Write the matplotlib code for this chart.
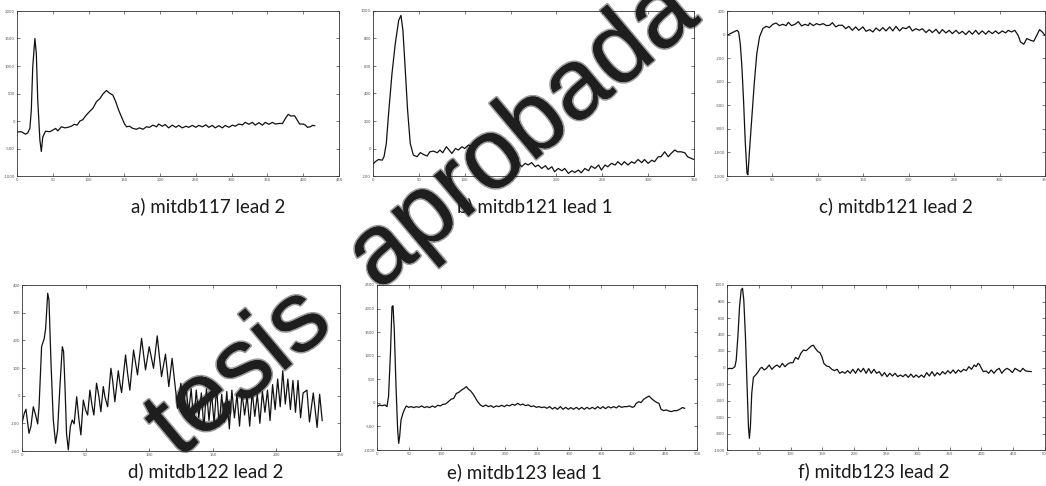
import matplotlib
matplotlib.use("Agg")
import matplotlib.pyplot as plt
import matplotlib.patheffects as pe

plt.rcParams['axes.unicode_minus'] = False

# a) mitdb117 lead 2
a_x = [0, 6, 12, 15, 18, 20, 22, 25, 27, 29, 32, 34, 36, 40, 46, 50, 54, 57, 62, 67,
       71, 76, 80, 84, 88, 92, 97, 102, 106, 111, 116, 120, 125, 129, 134, 138, 142, 146, 150, 153,
       157, 162, 167, 171, 176, 181, 185, 190, 195, 198, 203, 207, 212, 217, 222, 226, 231, 236, 240, 245,
       250, 254, 259, 264, 268, 273, 277, 282, 287, 291, 296, 301, 305, 310, 315, 319, 324, 329, 333, 338,
       343, 347, 352, 357, 361, 366, 371, 375, 379, 383, 388, 391, 395, 400, 403, 406, 410, 413, 416]
a_y = [-200, -195, -240, -215, -135, 200, 985, 1500, 1225, 380, -350, -555, -290, -185, -195, -165, -135, -180, -105, -125,
       -115, -95, -60, -75, 0, 25, 110, 180, 230, 350, 410, 490, 555, 510, 470, 350, 200, 75, -45, -105,
       -95, -135, -150, -125, -150, -105, -115, -75, -105, -55, -95, -65, -125, -75, -115, -80, -125, -95, -115, -80,
       -115, -80, -105, -70, -115, -80, -125, -85, -125, -80, -115, -75, -95, -55, -70, -25, -60, -25, -75, -30,
       -75, -25, -60, -25, -55, -45, -45, 45, 120, 90, 95, 30, -55, -55, -75, -115, -105, -80, -85]

# b) mitdb121 lead 1
b_x = [0, 2.5, 6, 10, 12, 14.5, 17, 20.7, 24.3, 28, 30.5, 32.6, 35, 37.7, 40.6, 44, 48, 51.5, 55, 59,
       62, 66, 70, 73, 76, 80, 83, 86, 90, 93, 97, 100, 104, 108, 111, 115, 119, 122, 126, 129,
       133, 137, 140, 144, 148, 151, 155, 158, 162, 166, 169, 173, 177, 180, 184, 188, 191, 195, 198, 202,
       206, 209, 213, 217, 220, 224, 227, 231, 235, 238, 242, 246, 249, 253, 256, 260, 264, 267, 271, 274,
       278, 282, 285, 289, 293, 296, 300, 304, 307, 311, 314, 318, 322, 325, 329, 332, 336, 340, 343, 347, 350]
b_y = [-113, -96, -80, -85, -60, 36, 255, 545, 763, 932, 968, 860, 593, 280, 37, -48, -60, -30, -43, -55,
       -24, -19, -31, -11, -31, 13, -11, -36, 0, -11, 13, 0, 25, 13, 42, 66, 61, 69, 56, 73,
       37, 32, 13, -24, -60, -96, -120, -96, -133, -108, -120, -103, -133, -120, -145, -125, -152, -133, -169, -145,
       -162, -145, -181, -162, -174, -157, -177, -145, -162, -128, -145, -120, -157, -120, -133, -108, -120, -96, -120, -96,
       -120, -96, -108, -80, -103, -80, -108, -85, -96, -60, -60, -24, -60, -36, -11, -24, -24, -31, -60, -72, -80]

# c) mitdb121 lead 2
c_x = [0, 3.6, 7.3, 11, 12.8, 14.6, 16.4, 18.2, 20, 22, 23, 24.8, 27.4, 30, 32.8, 35.8, 39.4, 43, 46.7, 50.4,
       54, 57.7, 61.3, 65, 67.5, 71, 74.8, 78.5, 82, 85.8, 89.4, 91, 95, 98.5, 102, 105.8, 109.5, 113, 116, 119.7,
       123, 127, 130.7, 134, 138, 141.6, 145, 149.6, 153, 157, 160.6, 164, 168, 171.5, 175, 179, 182.5, 186, 190, 193.4,
       197, 200.7, 204, 208, 211.7, 215, 219, 222.6, 226, 230, 233.6, 237, 241, 244.5, 248, 252, 255.5, 259, 262.8, 266.4,
       270, 273.7, 277, 281, 284.7, 288, 292, 295.6, 299, 303, 306.6, 309.5, 313, 316.8, 320.4, 323, 326.6, 330, 334, 337.6,
       341, 344, 347, 350]
c_y = [-6, 8, 22, 36, 22, -77, -274, -556, -895, -1177, -1190, -980, -697, -415, -161, -20, 50, 70, 59, 87,
       98, 76, 87, 76, 104, 76, 87, 110, 73, 87, 76, 98, 76, 93, 82, 93, 76, 79, 101, 65,
       79, 79, 50, 70, 36, 65, 36, 65, 28, 42, 22, 56, 31, 59, 31, 65, 31, 70, 31, 59,
       50, 70, 31, 50, 36, 50, 17, 42, 17, 45, 8, 42, 14, 36, 8, 36, 8, 28, 0, 31,
       3, 36, 3, 31, 3, 31, 8, 31, 8, 31, 14, 36, 22, 36, -6, -62, -82, -34, -48, -57,
       -6, 42, 22, -6]

# d) mitdb122 lead 2
d_x = [0, 1.8, 3.1, 4.5, 5.5, 7, 8.9, 10.7, 12.3, 13.4, 15.4, 17.5, 18.6, 20.2, 21.2, 22.8, 24.6, 26.4, 28, 29.8,
       31.7, 32.7, 33.8, 35, 36.4, 38, 39.5, 41, 43, 44.8, 46.3, 48.2, 50, 51.6, 53.4, 55.2, 56.5, 58.6, 60.5, 62,
       63.9, 65.2, 67.3, 69.9, 71.2, 73, 75.7, 77, 78.3, 81.4, 83, 84.8, 87.7, 90.8, 94, 97.1, 100, 103.4, 106.3, 109.7,
       112.8, 115.4, 118, 122.3, 124.9, 126.7, 129, 131, 133, 135, 137, 139, 141, 143, 145, 147, 149, 151, 153, 155,
       157, 159, 161, 163, 165, 167, 169, 171, 173, 175, 177, 179, 181, 183, 185, 187, 189, 191, 193, 195,
       197, 199, 201, 203, 205, 207, 209, 211, 213, 215, 217, 219, 221, 224, 226, 229, 232, 234, 236]
d_y = [-100, -64, -49, -100, -136, -112, -40, -70, -102, -40, 177, 207, 243, 370, 346, 117, -88, -172, -124, 33,
       177, 159, 33, -136, -196, -112, -88, -102, -4, -88, -142, -16, -52, -70, 20, -40, -70, 45, -4, -58,
       33, -4, -40, 99, 57, -22, 90, 45, 11, 147, 81, 20, 165, 75, 207, 93, 177, 99, 216, 69,
       150, 33, 135, -46, 45, -34, 30, -60, 25, -95, 20, -80, 10, -120, 25, -90, 10, -100, 30, -110,
       5, -95, 15, -120, 20, -80, 5, -110, 10, -70, 0, -110, 15, -75, 5, -100, 15, -60, 20, -90,
       40, -50, 60, -40, 90, -30, 60, -50, 55, -60, 55, -80, 10, 20, -95, 10, -115, 5, -90]

# e) mitdb123 lead 1
e_x = [0, 4, 8, 12.5, 15.6, 18, 21, 23.4, 25, 27, 29.7, 32.3, 33.9, 35.4, 37.5, 40.6, 43, 45.8, 49.5, 53.6,
       57.3, 61.5, 65.6, 69.8, 74, 78, 82.3, 86.5, 90.6, 94.8, 99, 103, 107, 111.5, 115.6, 119.8, 124, 128, 132, 136.5,
       139.6, 142.7, 145.8, 150, 153.6, 157.3, 161.5, 165.6, 169.8, 174, 178, 182, 186.5, 190.6, 194.8, 199, 203, 207, 211.5, 215.6,
       219.8, 224, 228, 232, 236.5, 240.6, 244.8, 249, 253, 257, 261.5, 265.6, 269.8, 274, 278, 282, 286.5, 290.6, 294.8, 299,
       303, 307, 311.5, 315.6, 319.8, 324, 328, 332, 336.5, 340.6, 344.8, 349, 353, 357, 361.5, 365.6, 369.8, 374, 378, 382,
       386.5, 390.6, 394.8, 399, 402, 405, 409, 412.5, 416.7, 420.8, 425, 429, 433, 437.5, 440.6, 443.8, 448, 452, 456, 460,
       464.6, 468.8, 473, 477, 480.7]
e_y = [-80, -45, -60, -45, -80, 130, 1050, 2040, 2060, 1545, 345, -575, -860, -715, -365, -220, -137, -65, -95, -80,
       -100, -80, -95, -65, -100, -80, -100, -65, -95, -52, -65, -30, -25, 25, 75, 95, 200, 225, 270, 310,
       345, 290, 260, 190, 110, 25, -45, -80, -45, -80, -60, -95, -65, -80, -52, -80, -45, -65, -30, -52,
       -10, -45, -25, -60, -40, -80, -65, -95, -80, -100, -88, -115, -80, -130, -95, -137, -80, -137, -95, -137,
       -100, -137, -95, -137, -95, -137, -95, -130, -95, -130, -80, -123, -80, -123, -80, -108, -80, -108, -65, -95,
       -80, -80, -65, -95, -80, -10, 25, 5, 75, 110, 145, 90, 45, 5, -10, -137, -165, -150, -172, -185,
       -165, -165, -137, -100, -115]

# f) mitdb123 lead 2
f_x = [0, 4.1, 8.3, 12.4, 14.5, 17.1, 19.7, 22.3, 24.4, 26.4, 29, 31.6, 33.7, 35.2, 36.8, 38.9, 41.5, 45.1, 49.2, 52.3,
       54.9, 58.5, 62.2, 66.3, 70.5, 74.6, 78.8, 82.9, 87, 91.2, 95.3, 99.5, 103.6, 107.8, 111.9, 116.1, 120.2, 124.4, 128.5, 132.6,
       135.8, 138.9, 143, 146.1, 149.2, 152.3, 156.5, 160.6, 164.8, 168.9, 173.1, 177.2, 181.3, 185.5, 189.6, 193.8, 197.9, 202.1, 206.2, 210.4,
       214.5, 218.7, 222.8, 226.9, 231.1, 235.2, 239.4, 243.5, 247.7, 251.8, 256, 260.1, 264.2, 268.4, 272.5, 276.7, 280.8, 285, 289.1, 293.3,
       297.4, 301.6, 305.7, 309.8, 314, 318.1, 322.3, 326.4, 330.6, 334.7, 338.9, 343, 347.2, 351.3, 355.4, 359.6, 363.7, 367.9, 372, 376.2,
       380.3, 384.5, 388.6, 391.7, 394.8, 396.9, 400, 403.1, 407.3, 411.4, 415.5, 419.7, 423.8, 428, 432.1, 436.3, 440.4, 444.6, 448.7, 452.8,
       457, 461.1, 465.3, 469.4, 478.2]
f_y = [-22, -10, -14, 10, 90, 374, 737, 940, 960, 818, 374, -232, -717, -859, -717, -313, -120, -91, -50, -10,
       2, -30, -10, 30, -22, 10, 30, 2, 50, 10, 42, 58, 58, 123, 99, 172, 212, 204, 232, 261,
       270, 232, 192, 180, 131, 50, 18, 10, -22, -38, -22, -70, -50, -70, -38, -70, -22, -70, -14, -54,
       -10, -70, -14, -70, -22, -70, -50, -103, -62, -111, -70, -103, -70, -111, -91, -111, -83, -119, -79, -119,
       -91, -119, -91, -119, -62, -103, -50, -103, -62, -91, -50, -79, -38, -70, -30, -70, -30, -54, -22, -38,
       10, -22, 30, 10, 50, 38, -10, -50, -42, -70, -30, -70, -30, -10, -70, -30, -10, -30, -62, -10,
       -30, -50, -10, -42, -50]

captions = ["a) mitdb117 lead 2", "b) mitdb121 lead 1", "c) mitdb121 lead 2",
            "d) mitdb122 lead 2", "e) mitdb123 lead 1", "f) mitdb123 lead 2"]
series = [(a_x, a_y), (b_x, b_y), (c_x, c_y), (d_x, d_y), (e_x, e_y), (f_x, f_y)]
xlims = [(0, 450), (0, 350), (0, 350), (0, 250), (0, 500), (0, 500)]
ylims = [(-1000, 2000), (-200, 1000), (-1200, 200), (-200, 400), (-1000, 2500), (-1000, 1000)]
ysteps = [500, 200, 200, 100, 500, 200]

W, H = 1046, 486
# axes boxes in pixels: left, top, width, height
boxes = [(17, 11, 322, 165), (373, 11, 321, 165), (727, 11, 318, 165),
         (22, 285, 318, 166), (377, 285, 320, 165), (727, 285, 318, 165)]
cap_pos = [(208, 206), (535, 206), (896, 206), (206, 471), (524, 472), (874, 471)]

fig = plt.figure(figsize=(W / 100, H / 100), dpi=100)

for i in range(6):
    l, t, w, h = boxes[i]
    ax = fig.add_axes([l / W, 1 - (t + h) / H, w / W, h / H])
    x, y = series[i]
    ax.plot(x, y, color='#111111', linewidth=0.9)
    ax.set_xlim(*xlims[i])
    ax.set_ylim(*ylims[i])
    ax.set_xticks(range(xlims[i][0], xlims[i][1] + 1, 50))
    ax.set_yticks(range(ylims[i][0], ylims[i][1] + 1, ysteps[i]))
    ax.tick_params(direction='in', length=2.5, width=0.5, labelsize=2.8,
                   labelcolor='#555555', color='#444444', top=True, right=True, pad=1.5)
    for s in ax.spines.values():
        s.set_linewidth(0.6)
        s.set_color('#333333')
    cx, cy = cap_pos[i]
    fig.text(cx / W, 1 - cy / H, captions[i], ha='center', va='center',
             fontsize=13.5, family='Lato', color='#1a1a1a')

# watermark (soft edge)
fig.text(423 / W, 1 - 220 / H, "tesis  aprobada", rotation=40, ha='center', va='center',
         fontsize=72, family='Liberation Sans', color='#1e1e1e',
         path_effects=[pe.withStroke(linewidth=2.5, foreground='#1e1e1e', alpha=0.45),
                       pe.Normal()])

fig.savefig("out.png", dpi=100)
